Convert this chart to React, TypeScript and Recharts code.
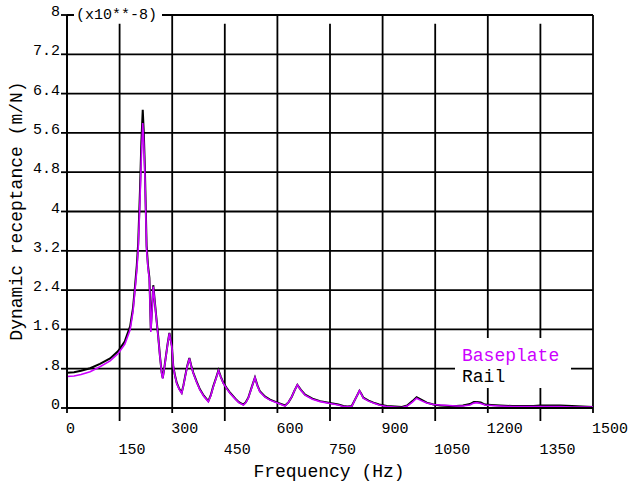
import React from 'react';
import { LineChart, Line, XAxis, YAxis, CartesianGrid, ReferenceLine, Legend, Label } from 'recharts';

const frequencyHz = [
  0, 20, 40, 66, 94, 123, 146, 165, 180, 188, 194, 199, 203, 208, 212, 216, 219, 222, 227, 231,
  235, 239, 243, 246, 251, 256, 260, 265, 270, 273, 277, 282, 287, 292, 299, 303, 308, 313, 320, 327,
  332, 337, 343, 349, 354, 360, 370, 379, 390, 403, 410, 417, 425, 432, 439, 446, 455, 465, 480, 490,
  503, 510, 517, 527, 536, 543, 550, 565, 579, 600, 622, 632, 641, 649, 657, 667, 679, 700, 722, 750,
  774, 788, 800, 812, 822, 834, 840, 845, 860, 874, 890, 912, 935, 955, 970, 985, 997, 1010, 1026, 1045,
  1064, 1090, 1110, 1129, 1149, 1160, 1168, 1180, 1192, 1210, 1235, 1270, 1300, 1330, 1349, 1380, 1406, 1440, 1470, 1500,
];

const baseplateValues = [
  0.64, 0.65, 0.68, 0.74, 0.84, 0.96, 1.11, 1.30, 1.59, 1.95, 2.40, 2.80, 3.22, 4.20, 5.10, 5.80, 5.40, 4.78, 3.22, 2.85,
  2.61, 1.55, 2.05, 2.47, 2.10, 1.73, 1.45, 1.05, 0.71, 0.60, 0.78, 1.04, 1.30, 1.52, 1.25, 0.84, 0.65, 0.50, 0.38, 0.30,
  0.45, 0.64, 0.85, 1.01, 0.86, 0.71, 0.52, 0.37, 0.24, 0.13, 0.25, 0.43, 0.60, 0.76, 0.62, 0.50, 0.40, 0.30, 0.18, 0.11,
  0.06, 0.11, 0.20, 0.42, 0.62, 0.45, 0.33, 0.22, 0.16, 0.10, 0.04, 0.12, 0.23, 0.36, 0.47, 0.36, 0.26, 0.18, 0.13, 0.09,
  0.06, 0.03, 0.03, 0.03, 0.18, 0.35, 0.27, 0.20, 0.14, 0.10, 0.06, 0.03, 0.02, 0.01, 0.04, 0.12, 0.20, 0.15, 0.10, 0.07,
  0.06, 0.05, 0.04, 0.04, 0.06, 0.10, 0.11, 0.09, 0.06, 0.05, 0.04, 0.03, 0.03, 0.03, 0.03, 0.03, 0.03, 0.02, 0.02, 0.02,
];

const railValues = [
  0.72, 0.73, 0.76, 0.81, 0.90, 1.01, 1.16, 1.36, 1.66, 2.02, 2.48, 2.90, 3.35, 4.40, 5.40, 6.07, 5.60, 4.90, 3.30, 2.90,
  2.65, 1.60, 2.10, 2.50, 2.12, 1.75, 1.47, 1.06, 0.72, 0.61, 0.79, 1.05, 1.31, 1.53, 1.26, 0.85, 0.66, 0.51, 0.39, 0.31,
  0.46, 0.65, 0.86, 1.02, 0.87, 0.72, 0.53, 0.38, 0.25, 0.14, 0.26, 0.44, 0.61, 0.77, 0.63, 0.51, 0.41, 0.31, 0.19, 0.12,
  0.07, 0.12, 0.21, 0.43, 0.62, 0.46, 0.34, 0.23, 0.17, 0.11, 0.05, 0.12, 0.23, 0.36, 0.47, 0.37, 0.27, 0.19, 0.14, 0.10,
  0.07, 0.04, 0.03, 0.04, 0.18, 0.35, 0.28, 0.21, 0.15, 0.11, 0.07, 0.04, 0.03, 0.02, 0.05, 0.14, 0.22, 0.17, 0.11, 0.07,
  0.05, 0.04, 0.04, 0.05, 0.08, 0.12, 0.12, 0.11, 0.07, 0.06, 0.05, 0.04, 0.04, 0.04, 0.05, 0.05, 0.05, 0.04, 0.03, 0.02,
];

const xTicks = [0, 150, 300, 450, 600, 750, 900, 1050, 1200, 1350, 1500];
const xTickLabels = ['0', '150', '300', '450', '600', '750', '900', '1050', '1200', '1350', '1500'];
const yTicks = [0, 0.8, 1.6, 2.4, 3.2, 4, 4.8, 5.6, 6.4, 7.2, 8];
const yTickLabels = ['0', '.8', '1.6', '2.4', '3.2', '4', '4.8', '5.6', '6.4', '7.2', '8'];
const scaleNote = '(x10**-8)';
const seriesNames = { base: 'Baseplate', rail: 'Rail' };

const data = frequencyHz.map((f, i) => ({ f, base: baseplateValues[i], rail: railValues[i] }));

const FONT = '"Liberation Mono", "DejaVu Sans Mono", monospace';
const MAGENTA = '#cc00ff';
const GRID_W = 1.8;

const XTick = (props: any) => {
  const { x, y, index } = props;
  const odd = index % 2 === 1;
  const label = xTickLabels[index];
  return (
    <g>
      <line x1={x} y1={y} x2={x} y2={y + (odd ? 13 : 5)} stroke="#000" strokeWidth={GRID_W} />
      <text x={x - 1} y={y + (odd ? 46 : 25)} textAnchor="start" fontFamily={FONT} fontSize={15} fill="#000">
        {label}
      </text>
    </g>
  );
};

const YTick = (props: any) => {
  const { x, y, index } = props;
  const label = yTickLabels[index];
  const isTop = index === yTickLabels.length - 1;
  return (
    <g>
      <text x={x} y={y + 1} textAnchor="end" fontFamily={FONT} fontSize={15} fill="#000">
        {label}
      </text>
      {isTop && (
        <g>
          <rect x={74} y={y - 7} width={88} height={13} fill="#fff" />
          <text x={76} y={y + 4} textAnchor="start" fontFamily={FONT} fontSize={15} fill="#000">
            {scaleNote}
          </text>
        </g>
      )}
    </g>
  );
};

const LegendBox = () => (
  <div
    style={{
      background: '#fff',
      fontFamily: FONT,
      fontSize: 18,
      lineHeight: '21px',
      padding: '8px 0 0 7px',
      boxSizing: 'border-box',
      width: '100%',
      height: '100%',
    }}
  >
    <div style={{ color: MAGENTA }}>{seriesNames.base}</div>
    <div style={{ color: '#000' }}>{seriesNames.rail}</div>
  </div>
);

export default function App() {
  return (
    <div style={{ position: 'absolute', left: 0, top: 0, width: 630, height: 485, background: '#fff' }}>
      <LineChart width={630} height={485} data={data} margin={{ top: 15, right: 37, bottom: 0, left: 0 }}>
        <CartesianGrid vertical={false} stroke="#000" strokeWidth={GRID_W} />
        {xTicks.map((t, i) =>
          i % 2 === 0 ? (
            <ReferenceLine key={t} x={t} stroke="#000" strokeWidth={GRID_W} />
          ) : (
            <ReferenceLine key={t} segment={[{ x: t, y: 0 }, { x: t, y: 7.82 }]} stroke="#000" strokeWidth={GRID_W} />
          )
        )}
        <XAxis
          dataKey="f"
          type="number"
          domain={[0, 1500]}
          ticks={xTicks}
          interval={0}
          height={77}
          tickSize={0}
          tickMargin={0}
          axisLine={{ stroke: '#000', strokeWidth: GRID_W }}
          tickLine={false}
          tick={<XTick />}
        >
          <Label
            content={() => (
              <text x={329} y={477} textAnchor="middle" fontFamily={FONT} fontSize={18} fill="#000">
                Frequency (Hz)
              </text>
            )}
          />
        </XAxis>
        <YAxis
          type="number"
          domain={[0, 8]}
          ticks={yTicks}
          interval={0}
          width={67}
          tickSize={6}
          tickMargin={1}
          axisLine={{ stroke: '#000', strokeWidth: GRID_W }}
          tickLine={{ stroke: '#000', strokeWidth: GRID_W }}
          tick={<YTick />}
        >
          <Label
            content={() => (
              <text
                x={22}
                y={211}
                transform="rotate(-90 22 211)"
                textAnchor="middle"
                fontFamily={FONT}
                fontSize={18}
                fill="#000"
              >
                Dynamic receptance (m/N)
              </text>
            )}
          />
        </YAxis>
        <Line type="linear" dataKey="rail" name={seriesNames.rail} stroke="#000" strokeWidth={2} dot={false} isAnimationActive={false} />
        <Line type="linear" dataKey="base" name={seriesNames.base} stroke={MAGENTA} strokeWidth={1.6} dot={false} isAnimationActive={false} />
        <Legend
          layout="horizontal"
          verticalAlign="middle"
          align="center"
          content={<LegendBox />}
          wrapperStyle={{ left: 455, top: 338, width: 116, height: 50 }}
        />
      </LineChart>
    </div>
  );
}
